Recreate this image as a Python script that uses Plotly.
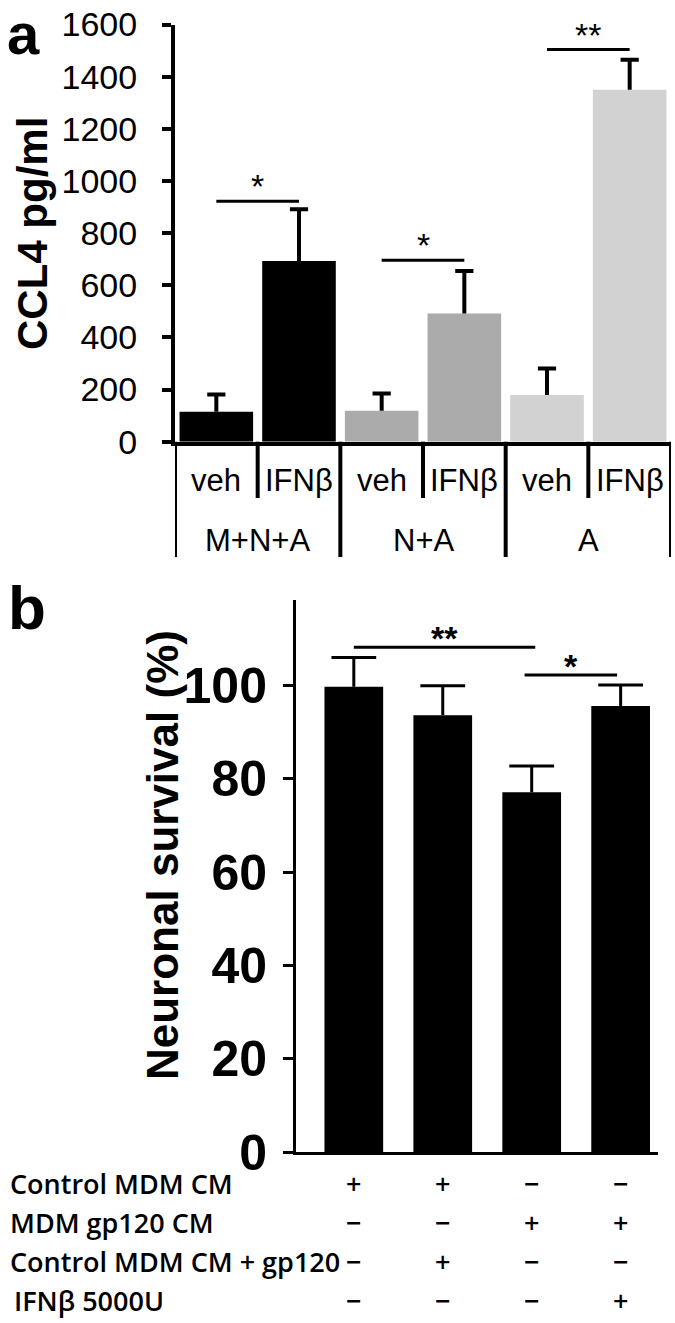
import plotly.graph_objects as go

W, H = 675, 1323

# ---------------- data: panel a ----------------
a_groups = ["M+N+A", "N+A", "A"]
a_treatments = ["veh", "IFNβ", "veh", "IFNβ", "veh", "IFNβ"]
a_values = [115, 693, 119, 492, 179, 1350]
a_errors = [66, 198, 66, 163, 102, 115]
a_colors = ["#000000", "#000000", "#ababab", "#ababab", "#d2d2d2", "#d2d2d2"]
a_ticks = [0, 200, 400, 600, 800, 1000, 1200, 1400, 1600]
a_sig = [(0, 1, 922, "*"), (2, 3, 696, "*"), (4, 5, 1504, "**")]

# ---------------- data: panel b ----------------
b_values = [99.7, 93.6, 77.1, 95.6]
b_errors = [6.3, 6.3, 5.6, 4.5]
b_ticks = [0, 20, 40, 60, 80, 100]
b_rows = ["Control MDM CM", "MDM gp120 CM", "Control MDM CM + gp120", "IFNβ 5000U"]
b_signs = [["+", "+", "−", "−"],
           ["−", "−", "+", "+"],
           ["−", "+", "−", "−"],
           ["−", "−", "−", "+"]]
b_sig = [(0, 2.04, 108.2, "**"), (1.92, 2.96, 102.2, "*")]


def py(y):
    return 1 - y / H


def px(x):
    return x / W


ARIAL = "Liberation Sans, Arial, sans-serif"
TABLE = "Open Sans, sans-serif"

fig = go.Figure()

xa = list(range(len(a_values)))
fig.add_trace(go.Bar(
    x=xa, y=a_values, width=0.89,
    marker=dict(color=a_colors, line=dict(width=0)),
    error_y=dict(type="data", symmetric=False, array=a_errors,
                 arrayminus=[0] * len(a_values), color="black",
                 thickness=4, width=0),
    xaxis="x", yaxis="y", showlegend=False, hoverinfo="skip"))
# caps of panel a error bars
fig.add_trace(go.Scatter(
    x=xa, y=[v + e for v, e in zip(a_values, a_errors)], mode="markers",
    marker=dict(symbol="line-ew", size=13, line=dict(width=4, color="black")),
    xaxis="x", yaxis="y", showlegend=False, hoverinfo="skip"))

xb = list(range(len(b_values)))
fig.add_trace(go.Bar(
    x=xb, y=b_values, width=0.66,
    marker=dict(color="#000000", line=dict(width=0)),
    error_y=dict(type="data", symmetric=False, array=b_errors,
                 arrayminus=[0] * len(b_values), color="black",
                 thickness=3, width=0),
    xaxis="x2", yaxis="y2", showlegend=False, hoverinfo="skip"))
fig.add_trace(go.Scatter(
    x=xb, y=[v + e for v, e in zip(b_values, b_errors)], mode="markers",
    marker=dict(symbol="line-ew", size=32, line=dict(width=3, color="black")),
    xaxis="x2", yaxis="y2", showlegend=False, hoverinfo="skip"))

a_bottom = 441.7
a_top = 24.5
b_bottom = 1152
b_top = 600

fig.update_layout(
    template="none",
    width=W, height=H,
    margin=dict(l=0, r=0, t=0, b=0, autoexpand=False),
    paper_bgcolor="white", plot_bgcolor="rgba(0,0,0,0)",
    xaxis=dict(domain=[px(175), px(671)], range=[-0.5, 5.5],
               showline=True, linewidth=4, linecolor="black",
               showticklabels=False, ticks="", showgrid=False, zeroline=False,
               anchor="y", automargin=False),
    yaxis=dict(domain=[py(a_bottom), py(a_top)], range=[0, 1600],
               tickvals=a_ticks, ticks="outside", ticklen=9, tickwidth=4,
               tickcolor="black", showline=True, linewidth=4, linecolor="black",
               showgrid=False, zeroline=False, anchor="x", automargin=False,
               tickfont=dict(family=ARIAL, size=34, color="black"),
               ticklabelstandoff=18, ticklabeloverflow="allow"),
    xaxis2=dict(domain=[px(296), px(658)], range=[-0.65, 3.42],
                showline=True, linewidth=3, linecolor="black",
                showticklabels=False, ticks="", showgrid=False, zeroline=False,
                anchor="y2", automargin=False),
    yaxis2=dict(domain=[py(b_bottom), py(b_top)], range=[0, 118.3],
                tickvals=b_ticks, ticks="outside", ticklen=10, tickwidth=3,
                tickcolor="black", showline=True, linewidth=3, linecolor="black",
                showgrid=False, zeroline=False, anchor="x2", automargin=False,
                tickfont=dict(family=ARIAL, size=50, color="black", weight="bold"),
                ticklabelstandoff=6, ticklabeloverflow="allow"),
)

shapes = []
annotations = []

# panel a table lines
for xv, y_end in [(-0.5, 557), (0.5, 498), (1.5, 557), (2.5, 498),
                  (3.5, 557), (4.5, 498), (5.5, 557)]:
    shapes.append(dict(type="line", xref="x", yref="paper", x0=xv, x1=xv,
                       y0=py(a_bottom), y1=py(y_end),
                       line=dict(color="black", width=4)))

for i, t in enumerate(a_treatments):
    annotations.append(dict(x=i, y=py(480), xref="x", yref="paper", text=t,
                            showarrow=False, yanchor="middle",
                            font=dict(family=ARIAL, size=31, color="black")))
for g, name in enumerate(a_groups):
    annotations.append(dict(x=2 * g + 0.5, y=py(540), xref="x", yref="paper",
                            text=name, showarrow=False, yanchor="middle",
                            font=dict(family=ARIAL, size=31, color="black")))

# significance, panel a
for x0, x1, yv, star in a_sig:
    shapes.append(dict(type="line", xref="x", yref="y", x0=x0, x1=x1,
                       y0=yv, y1=yv, line=dict(color="black", width=3)))
    annotations.append(dict(x=(x0 + x1) / 2, y=yv, xref="x", yref="y",
                            text=star, showarrow=False, yanchor="bottom",
                            yshift=-6,
                            font=dict(family=ARIAL, size=34, color="black")))

# significance, panel b
for x0, x1, yv, star in b_sig:
    shapes.append(dict(type="line", xref="x2", yref="y2", x0=x0, x1=x1,
                       y0=yv, y1=yv, line=dict(color="black", width=3)))
    annotations.append(dict(x=(x0 + x1) / 2, y=yv, xref="x2", yref="y2",
                            text=star, showarrow=False, yanchor="bottom",
                            yshift=-12,
                            font=dict(family=ARIAL, size=34, color="black",
                                      weight="bold")))

# axis titles & panel letters
annotations.append(dict(x=px(33), y=py(234), xref="paper", yref="paper",
                        text="<b>CCL4 pg/ml</b>", textangle=-90, showarrow=False,
                        xanchor="center", yanchor="middle",
                        font=dict(family=ARIAL, size=42, color="black")))
annotations.append(dict(x=px(162), y=py(855), xref="paper", yref="paper",
                        text="<b>Neuronal survival (%)</b>", textangle=-90,
                        showarrow=False, xanchor="center", yanchor="middle",
                        font=dict(family=ARIAL, size=44, color="black")))
annotations.append(dict(x=px(6), y=1, xref="paper", yref="paper",
                        text="<b>a</b>", showarrow=False, xanchor="left",
                        yanchor="top", borderpad=0,
                        font=dict(family=ARIAL, size=58, color="black")))
annotations.append(dict(x=px(6), y=py(608), xref="paper", yref="paper",
                        text="<b>b</b>", showarrow=False, xanchor="left",
                        yanchor="middle",
                        font=dict(family=ARIAL, size=62, color="black")))

# panel b condition table
row_y = [1183, 1222, 1261, 1300]
for r, label in enumerate(b_rows):
    annotations.append(dict(x=px(8 if r < 3 else 12), y=py(row_y[r]),
                            xref="paper", yref="paper", text=label,
                            showarrow=False, xanchor="left", yanchor="middle",
                            font=dict(family=TABLE, size=27, color="black",
                                      weight=600)))
    for c, s in enumerate(b_signs[r]):
        annotations.append(dict(x=c, y=py(row_y[r]), xref="x2", yref="paper",
                                text=s, showarrow=False, xanchor="center",
                                yanchor="middle",
                                font=dict(family=TABLE, size=27, color="black",
                                          weight=600)))

fig.update_layout(shapes=shapes, annotations=annotations)
# remove the browser's default page margin so the figure starts at (0, 0)
fig.write_html("out.html",
               config={"displayModeBar": False, "staticPlot": True},
               post_script="document.body.style.margin='0';")
